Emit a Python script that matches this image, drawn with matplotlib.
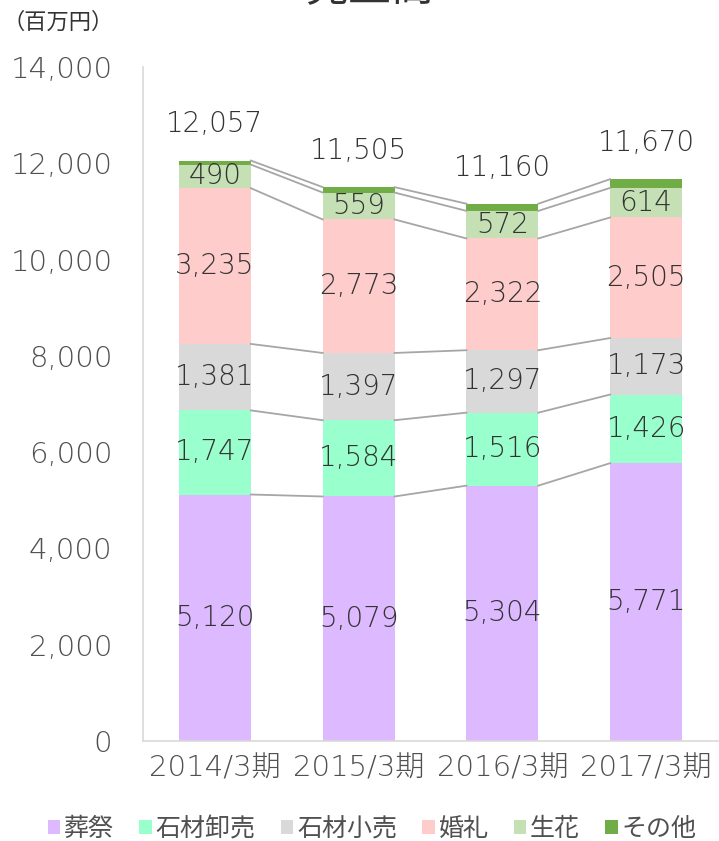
import numpy as np
import matplotlib
matplotlib.use('Agg')
import matplotlib.pyplot as plt
from matplotlib.patches import Patch

# DejaVu for the wide digits, Noto CJK for the Japanese glyphs
plt.rcParams['font.family'] = ['DejaVu Sans', 'Noto Sans CJK JP']

# data (百万円)
periods = ['2014/3期', '2015/3期', '2016/3期', '2017/3期']
series_names = ['葬祭', '石材卸売', '石材小売', '婚礼', '生花', 'その他']
sousai = [5120, 5079, 5304, 5771]
sekizai_oroshi = [1747, 1584, 1516, 1426]
sekizai_kouri = [1381, 1397, 1297, 1173]
konrei = [3235, 2773, 2322, 2505]
seika = [490, 559, 572, 614]
sonota = [84, 113, 149, 181]
totals = [12057, 11505, 11160, 11670]

colors = ['#DDB9FF', '#99FFCC', '#D9D9D9', '#FFCCCC', '#C5E0B4', '#70AD47']
label_color = '#333333'
tick_color = '#505050'

values = np.array([sousai, sekizai_oroshi, sekizai_kouri, konrei, seika, sonota])
x = np.arange(len(periods))
width = 0.5

fig = plt.figure(figsize=(7.19, 8.41), dpi=100)
ax = fig.add_axes([143 / 719, 1 - 741 / 841, 575 / 719, 674 / 841])

bottom = np.zeros(len(periods))
for i, (name, vals) in enumerate(zip(series_names, values)):
    ax.bar(x, vals, width, bottom=bottom, color=colors[i], zorder=2)
    if name != 'その他':
        for xi, v, b in zip(x, vals, bottom):
            ax.text(xi, b + v / 2, f'{v:,}', ha='center', va='center',
                    fontsize=20, color=label_color, fontweight='light', zorder=4)
    bottom = bottom + vals
    # series lines between bars
    for j in range(len(periods) - 1):
        ax.plot([x[j] + width / 2, x[j + 1] - width / 2], [bottom[j], bottom[j + 1]],
                color='#A6A6A6', lw=1.3, zorder=3)

for xi, t in zip(x, totals):
    ax.text(xi, t + 750, f'{t:,}', ha='center', va='center',
            fontsize=20, color=label_color, fontweight='light')

ax.set_xlim(-0.5, 3.5)
ax.set_ylim(0, 14000)
ax.set_yticks(np.arange(0, 14001, 2000))
ax.set_yticklabels([f'{v:,}' for v in range(0, 14001, 2000)], fontweight='light')
ax.set_xticks(x)
ax.set_xticklabels(periods, fontweight='light')
ax.tick_params(axis='y', length=0, pad=22, labelsize=21, labelcolor=tick_color)
ax.tick_params(axis='x', length=0, pad=10, labelsize=21, labelcolor=tick_color)

for s in ['top', 'right']:
    ax.spines[s].set_visible(False)
ax.spines['left'].set_color('#D9D9D9')
ax.spines['bottom'].set_color('#D9D9D9')
ax.spines['left'].set_linewidth(1.2)
ax.spines['bottom'].set_linewidth(1.2)

fig.text(3 / 719, 1 - 22 / 841, '（百万円）', ha='left', va='center',
         fontsize=16, color=label_color)
# title sits mostly above the canvas, as in the original
fig.text(370 / 719, 1 - 10 / 841, '売上高', ha='center', va='bottom',
         fontsize=31, color=label_color)

handles = [Patch(facecolor=c) for c in colors]
fig.legend(handles, series_names, loc='center', bbox_to_anchor=(372 / 719, 1 - 829 / 841),
           ncol=6, frameon=False, fontsize=18, handlelength=0.5, handleheight=0.5,
           handletextpad=0.16, columnspacing=1.0, labelcolor=tick_color)

fig.savefig('out.png', dpi=100)
